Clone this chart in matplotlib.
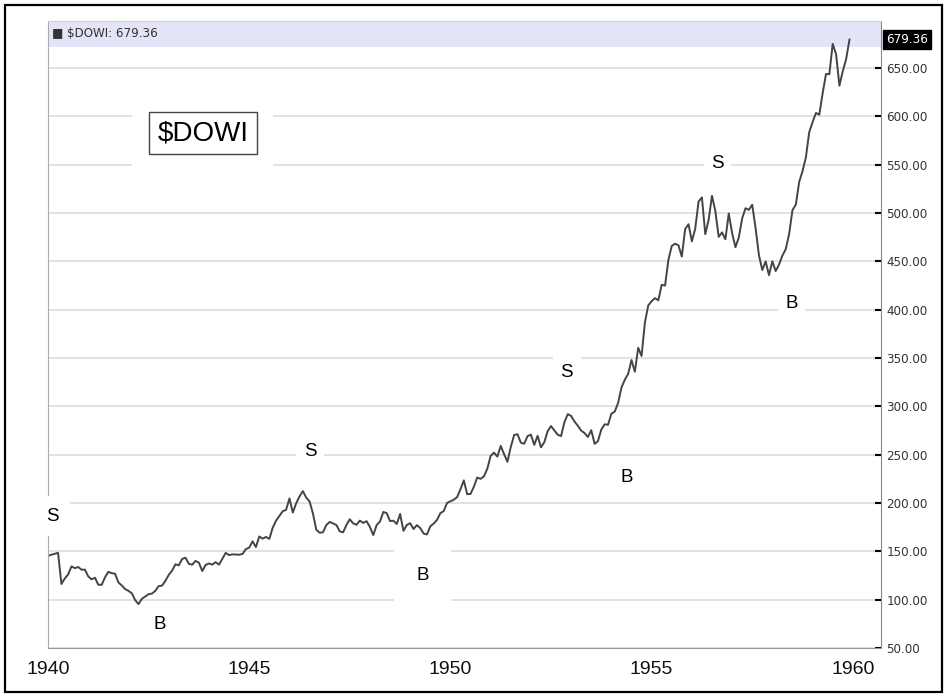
import numpy as np
import matplotlib.pyplot as plt
from matplotlib import font_manager
from matplotlib.patches import Rectangle
from matplotlib.transforms import blended_transform_factory

# monthly closes of the Dow Jones Industrial Average, Jan 1940 - Dec 1959
dowi_1940_44 = [
    145.3, 146.5, 147.5, 148.4, 116.2, 121.9, 126.1, 134.4, 132.6, 133.8, 131.0, 131.1,
    124.1, 121.0, 122.7, 115.5, 115.3, 123.1, 128.8, 127.4, 126.8, 117.8, 114.7, 111.0,
    109.1, 106.6, 99.5, 95.4, 100.9, 103.3, 105.7, 106.3, 109.1, 114.1, 114.5, 119.4,
    125.6, 130.0, 136.6, 135.5, 142.1, 143.4, 137.0, 136.2, 140.1, 138.3, 129.6, 135.9,
    137.4, 136.3, 138.8, 136.2, 142.2, 148.4, 146.1, 146.9, 146.7, 146.5, 147.3, 152.3,
]
dowi_1945_49 = [
    153.8, 160.4, 154.4, 165.4, 163.1, 164.9, 162.9, 174.3, 181.7, 186.6, 191.5, 192.9,
    204.7, 190.1, 199.6, 206.8, 212.3, 205.6, 201.6, 189.2, 172.4, 169.2, 169.8, 177.2,
    180.4, 178.9, 177.2, 170.6, 169.7, 177.3, 183.2, 178.9, 177.5, 181.8, 179.4, 181.2,
    175.1, 166.8, 177.2, 180.9, 190.7, 189.5, 181.3, 181.7, 178.3, 188.6, 171.2, 177.3,
    179.1, 173.1, 177.1, 174.1, 168.4, 167.4, 175.9, 178.7, 182.5, 189.5, 191.6, 200.1,
]
dowi_1950_54 = [
    201.8, 203.4, 206.1, 214.3, 223.4, 209.1, 209.4, 216.9, 226.4, 225.0, 227.6, 235.4,
    248.8, 252.1, 248.0, 259.1, 250.6, 242.6, 257.9, 270.3, 271.2, 262.4, 261.3, 269.2,
    270.7, 260.1, 269.5, 257.6, 262.9, 274.3, 279.6, 275.0, 270.6, 269.2, 283.7, 291.9,
    290.0, 284.3, 279.9, 274.8, 272.3, 268.3, 275.4, 261.2, 264.0, 276.0, 281.4, 280.9,
    292.4, 294.5, 303.5, 319.3, 327.5, 333.5, 347.9, 335.8, 360.5, 352.1, 386.8, 404.4,
]
dowi_1955_59 = [
    408.8, 411.9, 409.7, 425.7, 424.9, 451.4, 465.9, 468.2, 466.6, 454.9, 483.3, 488.4,
    470.7, 483.7, 511.8, 516.1, 478.1, 492.8, 517.8, 502.0, 475.3, 479.9, 472.8, 499.5,
    479.2, 464.6, 474.8, 494.4, 504.9, 503.3, 508.5, 484.4, 456.3, 441.0, 449.9, 435.7,
    450.0, 439.9, 446.8, 455.9, 462.7, 478.2, 503.0, 508.6, 532.1, 543.3, 557.5, 583.7,
    594.0, 603.5, 601.7, 623.8, 643.8, 643.6, 674.9, 664.4, 631.7, 646.6, 659.2, 679.36,
]
start_year = 1940
last_close = 679.36

year_ticks = [1940, 1945, 1950, 1955, 1960]
price_ticks = list(range(50, 651, 50))

# S / B marks (label, year, level)
marks_text = ['S', 'B', 'S', 'B', 'S', 'B', 'S', 'B']
marks_x = [1940.1, 1942.78, 1946.51, 1949.31, 1952.89, 1954.38, 1956.64, 1958.48]
marks_y = [186.5, 73.8, 252.8, 124.5, 334.5, 225.9, 551.7, 405.9]
marks_pad = [0.6, 0.05, 0.4, 1.2, 0.4, 0.4, 0.4, 0.4]

dowi = dowi_1940_44 + dowi_1945_49 + dowi_1950_54 + dowi_1955_59
dates = start_year + np.arange(len(dowi)) / 12.0

plt.rcParams['font.family'] = ['Liberation Sans', 'DejaVu Sans']

# a narrow face for the price scale, like the original chart
fonts = {(f.name, f.stretch) for f in font_manager.fontManager.ttflist}
if any(n == 'Liberation Sans Narrow' for n, s in fonts):
    narrow = dict(family=['Liberation Sans Narrow', 'DejaVu Sans'], size=10)
elif ('DejaVu Sans', 'condensed') in fonts:
    narrow = dict(family=['DejaVu Sans'], stretch='condensed', size=9.5)
else:
    narrow = dict(family=['Liberation Sans', 'DejaVu Sans'], size=9)
narrow_fp = font_manager.FontProperties(**narrow)

fig = plt.figure(figsize=(9.46, 6.98), dpi=100)
ax = fig.add_axes([48 / 946, 50 / 698, 833 / 946, 627 / 698])

ax.plot(dates, dowi, color='#444444', lw=1.4, zorder=2)

ax.set_xlim(1940, 1960.7)
ax.set_ylim(50, 698.6)
ax.axhspan(671.5, 698.6, color='#e4e4f8', lw=0, zorder=0)

ax.set_axisbelow(True)
ax.grid(axis='y', color='#dddddd', lw=1.2)

ax.yaxis.tick_right()
ax.set_yticks(price_ticks)
ax.set_yticklabels(['%.2f' % v for v in price_ticks], fontproperties=narrow_fp,
                   color='#333333')
ax.tick_params(axis='y', direction='in', length=4, width=1.5, color='black', pad=4)

ax.set_xticks(year_ticks)
ax.set_xticklabels([str(y) for y in year_ticks], fontsize=14, color='#111111')
ax.tick_params(axis='x', length=0, pad=9)

ax.spines['left'].set_color('#aaaaaa')
ax.spines['bottom'].set_color('#999999')
ax.spines['top'].set_color('#d0d0d0')
ax.spines['right'].set_color('#888888')

# header band text and last value tag
ax.text(1940.1, 686.0, '■ $DOWI: %.2f' % last_close, fontproperties=narrow_fp,
        color='#333333', va='center', ha='left')
trans = blended_transform_factory(ax.transAxes, ax.transData)
ax.text(1.006, last_close, '%.2f' % last_close, transform=trans,
        fontproperties=narrow_fp, color='white', va='center', ha='left',
        bbox=dict(boxstyle='square,pad=0.25', fc='black', ec='black'))

# title box
ax.text(1943.85, 582.7, '$DOWI', fontsize=20, color='white',
        ha='center', va='center', zorder=3,
        bbox=dict(boxstyle='square,pad=0.9', fc='white', ec='none'))
ax.text(1943.85, 582.7, '$DOWI', fontsize=20, color='black',
        ha='center', va='center', zorder=4,
        bbox=dict(boxstyle='square,pad=0.3', fc='white', ec='#444444', lw=1))

for t, x, y, p in zip(marks_text, marks_x, marks_y, marks_pad):
    ax.text(x, y, t, fontsize=13.5, color='black', ha='center',
            va='center', zorder=4,
            bbox=dict(boxstyle='square,pad=%s' % p, fc='white', ec='none'))

# outer frame
fig.patches.append(Rectangle((4.5 / 946, 6 / 698), 937.5 / 946, 687.5 / 698,
                             transform=fig.transFigure, fill=False,
                             ec='black', lw=1.6))

fig.savefig('out.png', dpi=100)
